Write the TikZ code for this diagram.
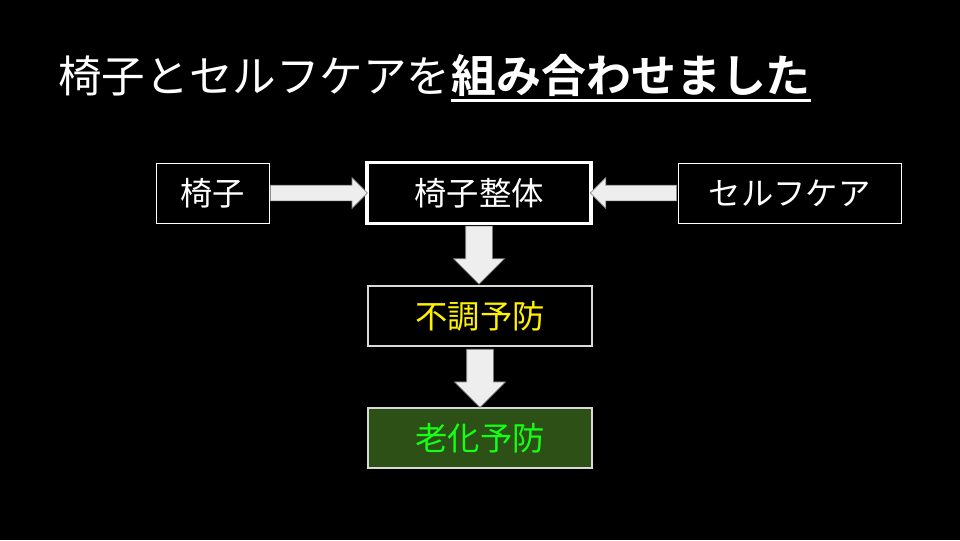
\documentclass[tikz,border=0pt]{standalone}
\usepackage{fontspec}
\setmainfont{Noto Sans CJK JP}[BoldFont={* Bold}]
\usepackage{tikz}
\usetikzlibrary{positioning,calc,shapes.arrows}
\definecolor{ArrowGray}{RGB}{238,238,238}
\definecolor{EdgeGray}{RGB}{140,140,140}
\definecolor{BoxGray}{RGB}{217,217,217}
\definecolor{LeafGreen}{RGB}{44,80,22}
\definecolor{TextGreen}{RGB}{20,255,20}
\tikzset{
  box/.style={draw=white,fill=black,text=white,inner sep=0pt,
    minimum height=1.5cm,font=\fontsize{23pt}{26pt}\selectfont},
  thinbox/.style={box,line width=0.6pt},
  mainbox/.style={box,line width=2.2pt,minimum height=1.52cm},
  stepbox/.style={box,draw=BoxGray,line width=1.3pt,minimum width=5.6cm},
  blk/.style={single arrow,draw=EdgeGray,fill=ArrowGray,line width=0.5pt,
    inner sep=0pt,minimum width=1pt,anchor=tail},
}

\begin{document}
\begin{tikzpicture}
\fill[black] (0,0) rectangle (24,-13.5);
\useasboundingbox (0,0) rectangle (24,-13.5);
% title
\node[anchor=base west,inner sep=0pt,text=white,font=\fontsize{31pt}{36pt}\selectfont]
  (t1) at (1.45,-2.3) {椅子とセルフケアを};
\node[anchor=base west,inner sep=0pt,text=white,font=\fontsize{32pt}{36pt}\selectfont\bfseries]
  (t2) at (t1.base east) {組み合わせました};
\draw[white,line width=0.075cm] ([yshift=-0.2cm]t2.base west) -- ([yshift=-0.2cm]t2.base east);
% boxes
\node[thinbox,minimum width=2.825cm] (isu) at (5.3125,-4.825) {椅子};
\node[mainbox,minimum width=5.6cm] (seitai) at (11.975,-4.825) {椅子整体};
\node[thinbox,minimum width=5.575cm] (self) at (19.7375,-4.825) {セルフケア};
\node[stepbox,text=yellow] (fucho) at (12,-7.9) {不調予防};
\node[stepbox,fill=LeafGreen,text=TextGreen] (roka) at (12,-10.95) {老化予防};
% arrows
\node[blk,single arrow head extend=0.1875cm,minimum height=2.42cm]
  (a1) at ([xshift=0.02cm]isu.east) {\rule{0pt}{0.375cm}};
\node[blk,single arrow head extend=0.1875cm,minimum height=2.15cm,rotate=180]
  (a2) at ([xshift=-0.02cm]self.west) {\rule{0pt}{0.375cm}};
\node[blk,single arrow head extend=0.3cm,minimum height=1.45cm,rotate=-90]
  (a3) at ([yshift=-0.02cm]seitai.south) {\rule{0pt}{0.65cm}};
\node[blk,single arrow head extend=0.3cm,minimum height=1.45cm,rotate=-90]
  (a4) at ([yshift=-0.05cm]fucho.south) {\rule{0pt}{0.65cm}};
\end{tikzpicture}
\end{document}
